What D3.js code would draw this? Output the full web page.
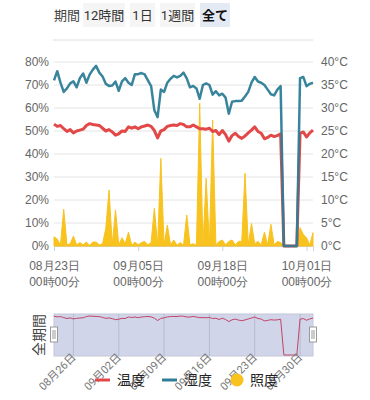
<!DOCTYPE html>
<html>
<head>
<meta charset="utf-8">
<script src="https://cdn.jsdelivr.net/npm/d3@7"></script>
<style>
  body { margin: 0; background: #fff; font-family: Roboto, "Noto Sans CJK JP", sans-serif; }
  .axis text { fill: #666; font-size: 12px; }
</style>
</head>
<body>
<div id="chart"></div>
<script>
// sample every 12 hours from 08/23 00:00
const startDate = new Date(2023, 7, 23, 0, 0);
const stepHours = 12;

const temperature = [
  26.5, 26.0, 26.2, 25.5, 24.9, 25.3, 24.6, 25.0, 25.2, 25.4,
  26.2, 26.6, 26.4, 26.3, 26.2, 25.6, 25.0, 25.3, 24.8, 24.1,
  24.4, 25.0, 24.9, 25.9, 25.6, 25.9, 25.5, 25.9, 26.1, 26.3,
  26.0, 25.1, 23.5, 25.0, 25.3, 26.0, 26.2, 26.3, 26.2, 26.6,
  26.4, 25.9, 25.9, 26.3, 25.9, 25.5, 25.5, 25.4, 25.6, 24.9,
  25.1, 24.2, 25.1, 24.2, 22.8, 24.0, 24.5, 23.8, 23.4, 23.9,
  24.6, 25.2, 25.9, 24.9, 24.5, 23.3, 23.6, 24.1, 23.8, 24.0,
  24.4, 0, 0, 0, 0, 0, 24.5, 24.8, 23.7, 24.6,
  25.2
];
const humidity = [
  72.0, 76.0, 71.0, 67.0, 68.5, 70.7, 71.6, 69.0, 73.0, 75.0,
  71.0, 74.5, 76.7, 78.3, 75.4, 73.7, 70.5, 69.6, 69.8, 71.5,
  67.5, 71.6, 73.0, 71.0, 70.0, 74.7, 74.7, 75.2, 74.6, 72.0,
  69.5, 59.0, 56.0, 68.0, 67.0, 71.0, 72.7, 74.0, 73.3, 74.0,
  75.4, 72.9, 69.0, 69.6, 68.5, 64.0, 70.0, 70.7, 70.0, 65.8,
  67.3, 65.5, 66.2, 64.5, 57.5, 62.7, 63.0, 63.0, 63.2, 65.0,
  67.0, 71.0, 73.5, 71.5, 71.0, 70.0, 68.0, 66.0, 65.5, 68.0,
  69.5, 0, 0, 0, 0, 0, 73.0, 73.5, 69.5, 70.5,
  71.0
];
const illuminance = [
  4.0, 3.0, 0.5, 16.0, 0.5, 1.0, 4.3, 0.5, 1.5, 0.5,
  1.7, 0.3, 1.7, 1.7, 0.5, 1.0, 7.7, 24.3, 0.5, 15.7,
  0.5, 3.6, 1.0, 6.0, 0.3, 1.7, 0.5, 1.5, 2.0, 0.5,
  1.5, 16.4, 0.3, 38.1, 0.5, 9.1, 0.5, 2.6, 0.3, 1.5,
  0.3, 13.5, 0.5, 1.0, 0.3, 62.0, 0.5, 29.4, 0.3, 54.8,
  0.5, 2.0, 2.6, 0.5, 2.0, 2.6, 0.5, 2.0, 2.0, 31.6,
  0.5, 9.8, 1.0, 2.0, 0.5, 6.0, 0.5, 9.4, 0.5, 2.0,
  1.5, 0, 0, 0, 0, 0, 8.0, 5.0, 3.6, 0.5,
  5.8
];

const periodButtons = ['12時間', '1日', '1週間', '全て'];
const humidityTicks = [0, 10, 20, 30, 40, 50, 60, 70, 80];
const temperatureTicks = [0, 5, 10, 15, 20, 25, 30, 35, 40];
const xTickDates = [[2023, 7, 23], [2023, 8, 5], [2023, 8, 18], [2023, 9, 1]];
const sliderDates = [[2023, 7, 26], [2023, 8, 2], [2023, 8, 9], [2023, 8, 16], [2023, 8, 23], [2023, 8, 30]];
const legendItems = ['温度', '湿度', '照度'];

const colors = { temp: '#e34848', hum: '#2d7d97', lux: '#f8c21f' };

const width = 370, height = 400;
const margin = { left: 54, right: 57, top: 62, bottom: 246 };

const times = temperature.map((d, i) => d3.timeHour.offset(startDate, i * stepHours));
const endDate = times[times.length - 1];

const svg = d3.select('#chart').append('svg')
  .attr('width', width)
  .attr('height', height);

// header buttons
const header = svg.append('g').attr('class', 'header');
header.append('text')
  .attr('x', 54).attr('y', 20)
  .attr('font-size', 13).attr('fill', '#444')
  .text('期間');
const btnX = [83, 130, 160, 200];
const btnW = [42, 25, 35, 30];
periodButtons.forEach((b, i) => {
  const active = i === periodButtons.length - 1;
  header.append('rect')
    .attr('x', btnX[i]).attr('y', 3)
    .attr('width', btnW[i]).attr('height', 24)
    .attr('fill', active ? '#e4eaf4' : '#f5f5f5');
  header.append('text')
    .attr('x', btnX[i] + btnW[i] / 2).attr('y', 20)
    .attr('text-anchor', 'middle')
    .attr('font-size', 13)
    .attr('font-weight', active ? 'bold' : 'normal')
    .attr('fill', active ? '#111' : '#333')
    .text(b);
});
svg.append('line')
  .attr('x1', 53).attr('x2', 313)
  .attr('y1', 40).attr('y2', 40)
  .attr('stroke', '#dedede');

// scales
const x = d3.scaleTime().domain([startDate, endDate]).range([margin.left, width - margin.right]);
const yHum = d3.scaleLinear().domain([0, 80]).range([margin.bottom, margin.top]);
const yTemp = d3.scaleLinear().domain([0, 40]).range([margin.bottom, margin.top]);
const yLux = yHum;

// grid
svg.append('g').selectAll('line')
  .data(humidityTicks)
  .enter().append('line')
  .attr('x1', margin.left).attr('x2', width - margin.right)
  .attr('y1', d => yHum(d)).attr('y2', d => yHum(d))
  .attr('stroke', '#e4e4e4');

// y axes
const leftAxis = svg.append('g')
  .attr('class', 'axis')
  .attr('transform', `translate(${margin.left},0)`)
  .call(d3.axisLeft(yHum).tickValues(humidityTicks).tickSize(0).tickPadding(5).tickFormat(d => d + '%'));
leftAxis.select('.domain').remove();

const rightAxis = svg.append('g')
  .attr('class', 'axis')
  .attr('transform', `translate(${width - margin.right},0)`)
  .call(d3.axisRight(yTemp).tickValues(temperatureTicks).tickSize(0).tickPadding(8).tickFormat(d => d + '°C'));
rightAxis.select('.domain').remove();

// x axis
const xAxis = svg.append('g')
  .attr('class', 'axis')
  .attr('transform', `translate(0,${margin.bottom})`)
  .call(d3.axisBottom(x)
    .tickValues(xTickDates.map(d => new Date(d[0], d[1], d[2])))
    .tickSize(5)
    .tickFormat(''));
xAxis.select('.domain').attr('stroke', '#ccd2e0');
xAxis.selectAll('.tick line').attr('stroke', '#ccd2e0');
xAxis.selectAll('.tick').append('text')
  .attr('fill', '#555')
  .attr('text-anchor', 'middle')
  .attr('font-size', 12)
  .each(function (d) {
    const t = d3.select(this);
    t.append('tspan').attr('x', 0).attr('y', 24).text(d3.timeFormat('%m月%d日')(d));
    t.append('tspan').attr('x', 0).attr('y', 40).text(d3.timeFormat('%H時%M分')(d));
  });

// illuminance area
const luxArea = d3.area()
  .x((d, i) => x(times[i]))
  .y0(yLux(0))
  .y1(d => yLux(d));
svg.append('path')
  .datum(illuminance)
  .attr('d', luxArea)
  .attr('fill', colors.lux)
  .attr('stroke', colors.lux)
  .attr('stroke-width', 1)
  .attr('stroke-linejoin', 'round');

// temperature line
svg.append('path')
  .datum(temperature)
  .attr('d', d3.line().x((d, i) => x(times[i])).y(d => yTemp(d)))
  .attr('fill', 'none')
  .attr('stroke', colors.temp)
  .attr('stroke-width', 3)
  .attr('stroke-linejoin', 'round');

// humidity line
svg.append('path')
  .datum(humidity)
  .attr('d', d3.line().x((d, i) => x(times[i])).y(d => yHum(d)))
  .attr('fill', 'none')
  .attr('stroke', colors.hum)
  .attr('stroke-width', 2.5)
  .attr('stroke-opacity', 0.95)
  .attr('stroke-linejoin', 'round');

// data zoom slider
const sliderTop = 314, sliderBottom = 356;
const ySlider = d3.scaleLinear().domain([0, d3.max(temperature)]).range([sliderBottom - 1, sliderTop + 2]);
const slider = svg.append('g').attr('class', 'slider');
slider.append('rect')
  .attr('x', x.range()[0]).attr('y', sliderTop)
  .attr('width', x.range()[1] - x.range()[0])
  .attr('height', sliderBottom - sliderTop)
  .attr('fill', '#d1d5e9')
  .attr('stroke', '#c4c8d8');
const sliderTicks = sliderDates.map(d => new Date(d[0], d[1], d[2]));
slider.selectAll('line.grid')
  .data(sliderTicks)
  .enter().append('line')
  .attr('class', 'grid')
  .attr('x1', d => x(d)).attr('x2', d => x(d))
  .attr('y1', sliderTop).attr('y2', sliderBottom)
  .attr('stroke', '#b6bbcf');
slider.append('path')
  .datum(temperature)
  .attr('d', d3.line().x((d, i) => x(times[i])).y(d => ySlider(d)))
  .attr('fill', 'none')
  .attr('stroke', '#c24467')
  .attr('stroke-width', 1);
slider.selectAll('text.date')
  .data(sliderTicks)
  .enter().append('text')
  .attr('class', 'date')
  .attr('text-anchor', 'end')
  .attr('font-size', 11)
  .attr('fill', '#777')
  .attr('transform', d => `translate(${x(d) + 3},${sliderBottom + 2}) rotate(-45)`)
  .text(d => d3.timeFormat('%m月%d日')(d));
[x.range()[0], x.range()[1]].forEach(hx => {
  slider.append('rect')
    .attr('x', hx - 3.5).attr('y', 327)
    .attr('width', 7).attr('height', 15)
    .attr('fill', '#fff')
    .attr('stroke', '#999');
  slider.append('line')
    .attr('x1', hx - 1).attr('x2', hx - 1).attr('y1', 330).attr('y2', 339)
    .attr('stroke', '#999');
  slider.append('line')
    .attr('x1', hx + 1).attr('x2', hx + 1).attr('y1', 330).attr('y2', 339)
    .attr('stroke', '#999');
});
slider.append('text')
  .attr('transform', 'translate(44,335) rotate(-90)')
  .attr('text-anchor', 'middle')
  .attr('font-size', 14)
  .attr('fill', '#444')
  .text('全期間');

// legend
const legend = svg.append('g').attr('class', 'legend');
const legendX = [95, 162, 231];
legendItems.forEach((name, i) => {
  const g = legend.append('g').attr('transform', `translate(${legendX[i]},380)`);
  if (i < 2) {
    g.append('line')
      .attr('x1', 0).attr('x2', 15)
      .attr('stroke', i === 0 ? colors.temp : colors.hum)
      .attr('stroke-width', 3);
  } else {
    g.append('circle')
      .attr('cx', 6).attr('cy', 0).attr('r', 6.5)
      .attr('fill', colors.lux);
  }
  g.append('text')
    .attr('x', i < 2 ? 22 : 19).attr('y', 5)
    .attr('font-size', 14)
    .attr('fill', '#222')
    .text(name);
});
</script>
</body>
</html>
